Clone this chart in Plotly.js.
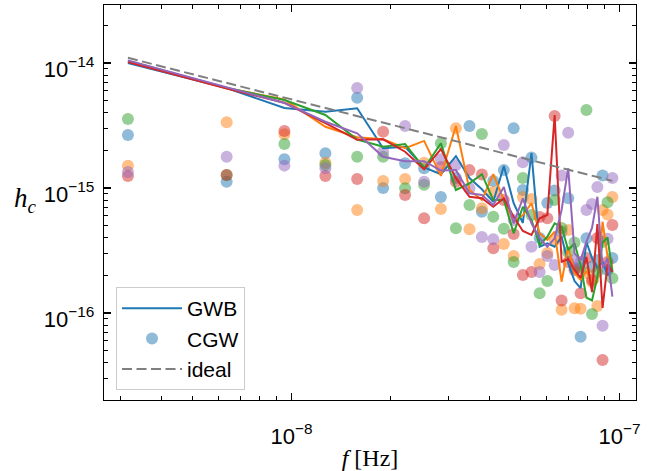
<!DOCTYPE html>
<html><head><meta charset="utf-8">
<script src="https://cdn.plot.ly/plotly-3.0.1.min.js"></script>
<style>html,body{margin:0;padding:0;background:#fff}#chart{width:654px;height:471px}</style>
</head><body><div id="chart"></div>
<script>
// frequencies f_n = n / T (T ~ 10 yr)
const freqs = [3.169e-9, 6.338e-9, 9.507e-9, 1.2676e-8, 1.5845e-8, 1.9014e-8, 2.2183e-8, 2.5352e-8, 2.8521e-8, 3.169e-8,
  3.4859e-8, 3.8028e-8, 4.1197e-8, 4.4366e-8, 4.7535e-8, 5.0704e-8, 5.3873e-8, 5.7042e-8, 6.0211e-8, 6.338e-8,
  6.6549e-8, 6.9718e-8, 7.2887e-8, 7.6056e-8, 7.9225e-8, 8.2394e-8, 8.5563e-8, 8.8732e-8, 9.1901e-8, 9.507e-8];

const ideal = [1.10e-14, 6.93e-15, 5.29e-15, 4.37e-15, 3.76e-15, 3.33e-15, 3.01e-15, 2.75e-15, 2.54e-15, 2.37e-15,
  2.22e-15, 2.10e-15, 1.99e-15, 1.89e-15, 1.81e-15, 1.73e-15, 1.66e-15, 1.60e-15, 1.54e-15, 1.49e-15,
  1.44e-15, 1.40e-15, 1.36e-15, 1.32e-15, 1.29e-15, 1.25e-15, 1.22e-15, 1.19e-15, 1.17e-15, 1.14e-15];

// GWB characteristic strain, 5 realisations
const gwbBlue = [1.0e-14, 6.3e-15, 4.37e-15, 4.08e-15, 4.34e-15, 2.08e-15, 2.14e-15, 1.46e-15, 1.29e-15, 1.80e-15,
  1.20e-15, 9.77e-16, 7.77e-16, 1.50e-15, 7.55e-16, 5.25e-16, 1.90e-15, 3.39e-16, 3.61e-16, 3.39e-16,
  4.08e-16, 2.50e-16, 1.80e-16, 1.58e-16, 3.70e-16, 2.75e-16, 2.29e-16, 2.56e-16, 2.01e-16, 2.29e-16];
const gwbOrange = [1.04e-14, 6.3e-15, 5.12e-15, 3.09e-15, 2.55e-15, 2.45e-15, 2.08e-15, 2.38e-15, 1.25e-15, 3.13e-15,
  9.64e-16, 8.02e-16, 1.29e-15, 8.02e-16, 5.37e-16, 6.08e-16, 7.55e-16, 4.34e-16, 3.84e-16, 4.47e-16,
  1.78e-16, 3.39e-16, 2.09e-16, 1.84e-16, 2.17e-16, 1.74e-16, 1.77e-16, 5.37e-16, 2.82e-16, 2.33e-16];
const gwbGreen = [1.04e-14, 6.3e-15, 5.06e-15, 3.84e-15, 2.44e-15, 2.14e-15, 2.25e-15, 1.44e-15, 2.28e-15, 9.64e-16,
  1.09e-15, 1.29e-15, 8.02e-16, 8.02e-16, 4.34e-16, 7.08e-16, 5.55e-16, 3.50e-16, 4.07e-16, 5.22e-16,
  4.90e-16, 3.19e-16, 3.61e-16, 2.42e-16, 1.33e-16, 1.26e-16, 1.95e-16, 3.66e-16, 4.02e-16, 2.11e-16];
const gwbRed = [1.02e-14, 6.25e-15, 4.81e-15, 3.31e-15, 2.43e-15, 2.45e-15, 1.95e-15, 1.41e-15, 2.05e-15, 1.20e-15,
  8.51e-16, 8.28e-16, 7.08e-16, 8.28e-16, 5.89e-16, 4.53e-16, 4.21e-16, 5.73e-16, 6.08e-16, 3.84e-15,
  2.57e-16, 2.70e-16, 2.21e-16, 1.91e-16, 2.81e-16, 1.47e-16, 5.15e-16, 1.10e-16, 2.47e-16, 2.13e-16];
const gwbPurple = [1.05e-14, 6.35e-15, 4.79e-15, 3.39e-15, 2.74e-15, 1.78e-15, 1.64e-15, 1.64e-15, 1.38e-15, 1.39e-15,
  9.08e-16, 8.79e-16, 7.31e-16, 1.02e-15, 5.22e-16, 8.28e-16, 5.22e-16, 3.96e-16, 3.39e-16, 3.96e-16,
  6.67e-16, 1.44e-15, 3.0e-16, 2.65e-16, 3.72e-16, 4.79e-16, 8.51e-16, 2.29e-16, 2.75e-16, 1.35e-16];

// CGW loudest-source strain, 5 realisations
const cgwBlue = [2.65e-15, 1.12e-15, 1.70e-15, 1.90e-15, 5.27e-15, 1.0e-15, 1.58e-15, 1.44e-15, 8.47e-16, 1.20e-15,
  3.13e-15, 6.46e-16, 1.14e-15, 1.39e-15, 3.0e-15, 9.64e-16, 1.75e-15, 3.98e-16, 7.59e-16, 9.55e-16,
  4.45e-16, 8.28e-16, 2.29e-16, 6.46e-17, 3.96e-16, 2.34e-16, 2.65e-16, 1.26e-15, 2.21e-16, 2.75e-16];
const cgwOrange = [1.51e-15, 3.36e-15, 2.69e-15, 1.59e-15, 6.67e-16, 1.14e-15, 1.18e-15, 1.59e-15, 6.79e-16, 3.0e-15,
  4.68e-16, 6.89e-16, 9.29e-16, 3.56e-16, 2.86e-16, 8.47e-16, 8.17e-16, 2.47e-16, 3.02e-16, 3.84e-16,
  1.06e-16, 4.61e-16, 1.09e-16, 1.08e-16, 2.09e-16, 1.77e-16, 1.14e-16, 6.67e-16, 6.14e-16, 8.47e-16];
const cgwGreen = [3.56e-15, 1.27e-15, 2.25e-15, 1.53e-15, 1.78e-15, 1.78e-15, 9.95e-16, 1.06e-15, 2.28e-15, 4.76e-16,
  7.31e-16, 2.70e-15, 5.89e-16, 4.72e-16, 2.56e-16, 1.20e-15, 6.08e-16, 1.44e-16, 1.80e-16, 8.02e-16,
  4.79e-16, 3.08e-16, 3.66e-16, 2.29e-16, 4.21e-15, 9.82e-17, 2.13e-16, 3.70e-16, 7.69e-16, 1.90e-16];
const cgwRed = [1.25e-15, 1.27e-15, 2.86e-15, 1.25e-15, 1.18e-15, 2.82e-15, 8.79e-16, 5.73e-16, 1.47e-15, 1.12e-15,
  1.39e-15, 1.28e-15, 3.30e-16, 8.02e-16, 4.29e-16, 2.01e-16, 2.13e-16, 5.86e-16, 5.73e-16, 3.77e-15,
  1.26e-16, 2.56e-16, 2.21e-16, 1.44e-16, 2.75e-16, 1.84e-16, 3.98e-16, 4.21e-17, 2.56e-16, 5.06e-16];
const cgwPurple = [1.34e-15, 1.78e-15, 1.51e-15, 1.44e-15, 6.31e-15, 1.95e-15, 3.13e-15, 1.12e-15, 1.70e-15, 1.53e-15,
  9.95e-16, 4.06e-16, 3.89e-16, 2.21e-15, 5.55e-16, 1.61e-15, 3.39e-16, 2.13e-16, 2.86e-16, 2.42e-16,
  1.26e-15, 2.77e-15, 2.65e-16, 2.56e-16, 6.67e-16, 7.45e-16, 1.02e-15, 7.91e-17, 3.93e-16, 1.20e-15];

const colors = ['#1f77b4', '#ff7f0e', '#2ca02c', '#d62728', '#9467bd'];
const gwbSets = [gwbBlue, gwbOrange, gwbGreen, gwbRed, gwbPurple];
const cgwSets = [cgwBlue, cgwOrange, cgwGreen, cgwRed, cgwPurple];

const xTickVals = [1e-8, 1e-7];
const xTickText = ['10<sup>\u22128</sup>', '10<sup>\u22127</sup>'];
const yTickVals = [1e-16, 1e-15, 1e-14];
const yTickText = ['10<sup>\u221216</sup>', '10<sup>\u221215</sup>', '10<sup>\u221214</sup>'];

function minorTicks(e0, e1) {
  const out = [];
  for (let e = e0; e <= e1; e++) for (let m = 2; m <= 9; m++) out.push(m * Math.pow(10, e));
  return out;
}

const traces = [];
cgwSets.forEach((v, i) => traces.push({
  x: freqs, y: v, type: 'scatter', mode: 'markers', name: 'CGW',
  showlegend: i === 0, legendrank: 2,
  marker: {color: colors[i], size: 12, opacity: 0.5, line: {width: 0}}
}));
gwbSets.forEach((v, i) => traces.push({
  x: freqs, y: v, type: 'scatter', mode: 'lines', name: 'GWB',
  showlegend: i === 0, legendrank: 1,
  line: {color: colors[i], width: 2}
}));
traces.push({
  x: freqs, y: ideal, type: 'scatter', mode: 'lines', name: 'ideal', legendrank: 3,
  line: {color: '#7f7f7f', width: 2, dash: '10px,4.5px'}
});

const axisCommon = {
  type: 'log', tickmode: 'array', ticks: 'inside', ticklen: 7, tickwidth: 1.2, tickcolor: 'black',
  showline: true, linecolor: 'black', linewidth: 1.2, mirror: 'allticks',
  showgrid: false, zeroline: false,
  tickfont: {family: 'Liberation Sans, Arial, sans-serif', size: 22, color: 'black'}
};

const layout = {
  width: 654, height: 471,
  margin: {l: 104, r: 18, t: 5, b: 71},
  paper_bgcolor: 'white', plot_bgcolor: 'white',
  font: {family: 'Liberation Sans, Arial, sans-serif', size: 20, color: 'black'},
  showlegend: true,
  xaxis: Object.assign({}, axisCommon, {
    range: [-8.572, -6.950], tickvals: xTickVals, ticktext: xTickText, ticklabelstandoff: 16,
    minor: {tickmode: 'array', tickvals: minorTicks(-9, -8), ticks: 'inside', ticklen: 4, tickwidth: 1, tickcolor: 'black', showgrid: false},
    title: {text: '<i>f</i> [Hz]', font: {family: 'Liberation Serif, Times New Roman, serif', size: 24, color: 'black'}, standoff: 4}
  }),
  yaxis: Object.assign({}, axisCommon, {
    range: [-16.696, -13.536], tickvals: yTickVals, ticktext: yTickText, ticklabelstandoff: 4, ticklabelshift: 6,
    minor: {tickmode: 'array', tickvals: minorTicks(-17, -14), ticks: 'inside', ticklen: 4, tickwidth: 1, tickcolor: 'black', showgrid: false}
  }),
  annotations: [{
    xref: 'paper', yref: 'paper', x: -0.148, y: 0.506, xanchor: 'center', yanchor: 'middle',
    text: '<i>h</i><sub><i>c</i></sub>', showarrow: false,
    font: {family: 'Liberation Serif, Times New Roman, serif', size: 27, color: 'black'}
  }],
  legend: {
    x: 0.0226, y: 0.025, xanchor: 'left', yanchor: 'bottom',
    bgcolor: 'rgba(255,255,255,0.8)', bordercolor: '#cccccc', borderwidth: 1,
    font: {family: 'Liberation Sans, Arial, sans-serif', size: 21, color: 'black'},
    itemwidth: 60, tracegroupgap: 0, traceorder: 'normal'
  }
};

Plotly.newPlot('chart', traces, layout, {staticPlot: true, displayModeBar: false});
</script>
</body></html>
